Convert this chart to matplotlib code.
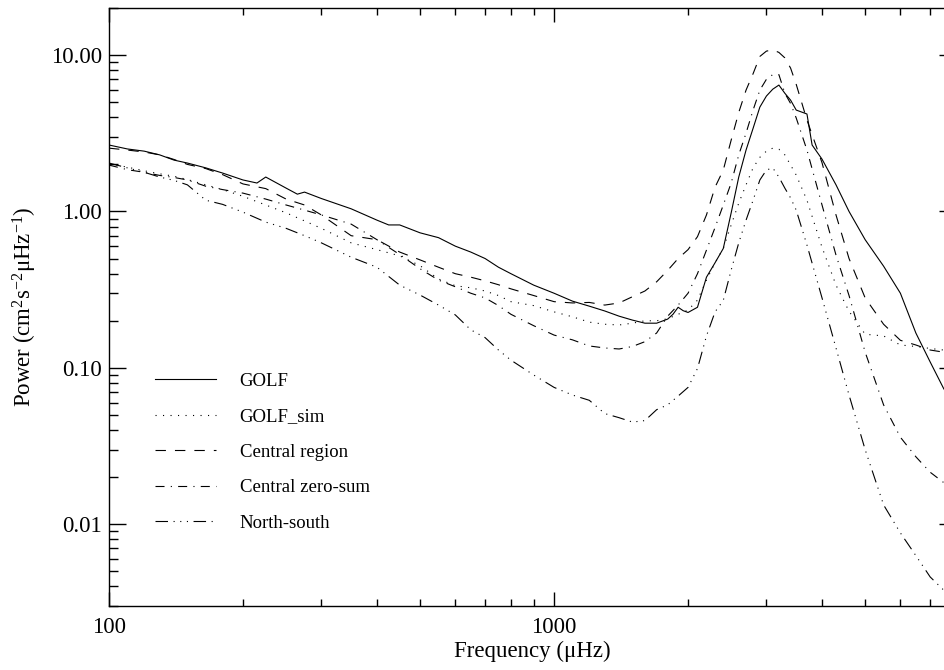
import matplotlib
matplotlib.use('Agg')
import matplotlib.pyplot as plt
from matplotlib.ticker import LogLocator, NullFormatter

plt.rcParams['font.family'] = 'Liberation Serif'
plt.rcParams['mathtext.fontset'] = 'custom'
plt.rcParams['mathtext.rm'] = 'Liberation Serif'
plt.rcParams['mathtext.it'] = 'Liberation Serif:italic'
plt.rcParams['lines.scale_dashes'] = False

# GOLF (own frequency sampling, keeps the small wiggles)
golf_freq = [100, 110, 120, 130, 140, 150, 165, 180, 200, 215, 225, 250, 265, 275, 300,
             350, 400, 425, 450, 500, 550, 600, 650, 700, 750, 800, 900, 1000, 1100,
             1200, 1300, 1400, 1500, 1600, 1700, 1800, 1850, 1900, 1950, 2000, 2100,
             2200, 2300, 2400, 2500, 2600, 2700, 2800, 2900, 3000, 3100, 3200, 3300,
             3400, 3500, 3700, 3800, 4000, 4300, 4600, 5000, 5500, 6000, 6500, 7000,
             7500, 8000]
golf = [2.66, 2.51, 2.43, 2.30, 2.13, 2.04, 1.90, 1.76, 1.59, 1.52, 1.66, 1.41, 1.29, 1.33, 1.21,
        1.04, 0.88, 0.82, 0.82, 0.73, 0.68, 0.60, 0.55, 0.50, 0.44, 0.40, 0.338, 0.30, 0.267,
        0.248, 0.231, 0.214, 0.202, 0.193, 0.193, 0.205, 0.22, 0.244, 0.232, 0.226, 0.244,
        0.38, 0.47, 0.58, 0.98, 1.66, 2.47, 3.40, 4.65, 5.47, 6.05, 6.43, 5.70,
        5.15, 4.45, 4.20, 2.66, 2.16, 1.48, 1.00, 0.66, 0.447, 0.30, 0.167, 0.109,
        0.074, 0.055]

# shared frequency grid for the other four series
freq = [100, 110, 120, 130, 140, 150, 165, 180, 200, 225, 250, 275, 300, 350, 400, 450,
        500, 550, 600, 650, 700, 750, 800, 900, 1000, 1100, 1200, 1300, 1400, 1500, 1600,
        1700, 1800, 1900, 2000, 2100, 2200, 2300, 2400, 2500, 2600, 2700, 2800, 2900, 3000,
        3100, 3200, 3300, 3400, 3500, 3700, 4000, 4300, 4600, 5000, 5500, 6000, 6500, 7000,
        7500, 8000]
golf_sim = [2.02, 1.92, 1.82, 1.74, 1.68, 1.60, 1.48, 1.38, 1.25, 1.10, 0.98, 0.87, 0.78, 0.63, 0.57, 0.52,
            0.45, 0.37, 0.335, 0.325, 0.31, 0.29, 0.265, 0.25, 0.228, 0.212, 0.196, 0.19, 0.188, 0.193, 0.20,
            0.20, 0.206, 0.22, 0.234, 0.271, 0.364, 0.47, 0.58, 0.82, 1.13, 1.48, 1.90, 2.22, 2.43,
            2.54, 2.50, 2.30, 1.98, 1.71, 1.18, 0.59, 0.338, 0.23, 0.164, 0.16, 0.14, 0.137, 0.133,
            0.13, 0.13]
central = [2.54, 2.47, 2.40, 2.30, 2.15, 2.00, 1.88, 1.72, 1.50, 1.40, 1.20, 1.10, 0.95, 0.70, 0.66, 0.55,
           0.49, 0.44, 0.40, 0.38, 0.36, 0.34, 0.32, 0.29, 0.265, 0.26, 0.262, 0.252, 0.26, 0.285, 0.31,
           0.355, 0.42, 0.50, 0.57, 0.69, 0.95, 1.43, 1.84, 2.86, 4.30, 5.97, 7.60, 9.80, 10.6,
           10.8, 10.4, 9.6, 8.25, 6.5, 3.84, 2.05, 0.95, 0.50, 0.28, 0.19, 0.15, 0.14, 0.13,
           0.126, 0.121]
zero_sum = [1.98, 1.85, 1.78, 1.70, 1.65, 1.59, 1.45, 1.38, 1.31, 1.20, 1.10, 1.02, 0.95, 0.83, 0.66, 0.53,
            0.43, 0.364, 0.33, 0.30, 0.28, 0.25, 0.22, 0.186, 0.162, 0.151, 0.138, 0.134, 0.132, 0.137, 0.147,
            0.167, 0.214, 0.252, 0.30, 0.40, 0.566, 0.79, 1.10, 1.52, 2.30, 3.17, 4.45, 5.97, 7.0,
            7.5, 7.5, 5.7, 4.9, 3.96, 2.47, 1.10, 0.526, 0.29, 0.126, 0.058, 0.036, 0.027, 0.0215,
            0.0185, 0.016]
north_south = [2.04, 1.90, 1.78, 1.66, 1.58, 1.48, 1.18, 1.11, 0.99, 0.855, 0.78, 0.70, 0.63, 0.51, 0.44, 0.338,
               0.292, 0.252, 0.218, 0.175, 0.156, 0.13, 0.112, 0.09, 0.075, 0.067, 0.062, 0.051, 0.048, 0.045, 0.046,
               0.054, 0.058, 0.066, 0.075, 0.099, 0.160, 0.228, 0.27, 0.422, 0.63, 0.88, 1.18, 1.59, 1.84,
               1.90, 1.66, 1.41, 1.22, 1.02, 0.61, 0.28, 0.134, 0.067, 0.030, 0.0133, 0.0088, 0.0063, 0.0046,
               0.0038, 0.0033]

fig = plt.figure(figsize=(9.44, 6.70), dpi=100)
ax = fig.add_axes([109 / 944, 64 / 670, 847 / 944, 598 / 670])

lw = 0.8
ax.plot(golf_freq, golf, color='black', lw=lw, linestyle='-', label='GOLF')
ax.plot(freq, golf_sim, color='black', lw=lw, linestyle=(0, (0.8, 4.6)), label='GOLF_sim')
ax.plot(freq, central, color='black', lw=lw, linestyle=(0, (7.5, 6.5)), label='Central region')
ax.plot(freq, zero_sum, color='black', lw=lw, linestyle=(0, (6.5, 4.5, 0.8, 4.5)), label='Central zero-sum')
ax.plot(freq, north_south, color='black', lw=lw,
        linestyle=(0, (9, 4, 0.8, 4, 0.8, 4, 0.8, 4)), label='North-south')

ax.set_xscale('log')
ax.set_yscale('log')
ax.set_xlim(100, 8000)
ax.set_ylim(0.003, 20)

ax.set_xticks([100, 1000])
ax.set_xticklabels(['100', '1000'])
ax.xaxis.set_minor_locator(LogLocator(base=10, subs=range(2, 10)))
ax.xaxis.set_minor_formatter(NullFormatter())
ax.set_yticks([0.01, 0.1, 1, 10])
ax.set_yticklabels(['0.01', '0.10', '1.00', '10.00'])
ax.yaxis.set_minor_locator(LogLocator(base=10, subs=range(2, 10)))
ax.yaxis.set_minor_formatter(NullFormatter())

ax.tick_params(which='both', direction='in', top=True, right=True, width=1)
ax.tick_params(axis='x', which='major', length=10, pad=8, labelsize=16.5)
ax.tick_params(axis='x', which='minor', length=5.3)
ax.tick_params(axis='y', which='major', length=12, pad=5, labelsize=16.5)
ax.tick_params(axis='y', which='minor', length=6.5)
for s in ax.spines.values():
    s.set_linewidth(1.0)

ax.set_xlabel('Frequency (μHz)', fontsize=16.5, labelpad=2)
ax.set_ylabel(r'Power (cm$^{2}$s$^{-2}$μHz$^{-1}$)', fontsize=16.5)
ax.yaxis.set_label_coords(-0.083, 0.5)

ax.legend(loc='upper left', bbox_to_anchor=(0.054, 0.39), frameon=False, fontsize=13.5,
          handlelength=3.25, handletextpad=1.28, labelspacing=0.98, borderpad=0,
          borderaxespad=0)

fig.savefig('out.png', dpi=100)
